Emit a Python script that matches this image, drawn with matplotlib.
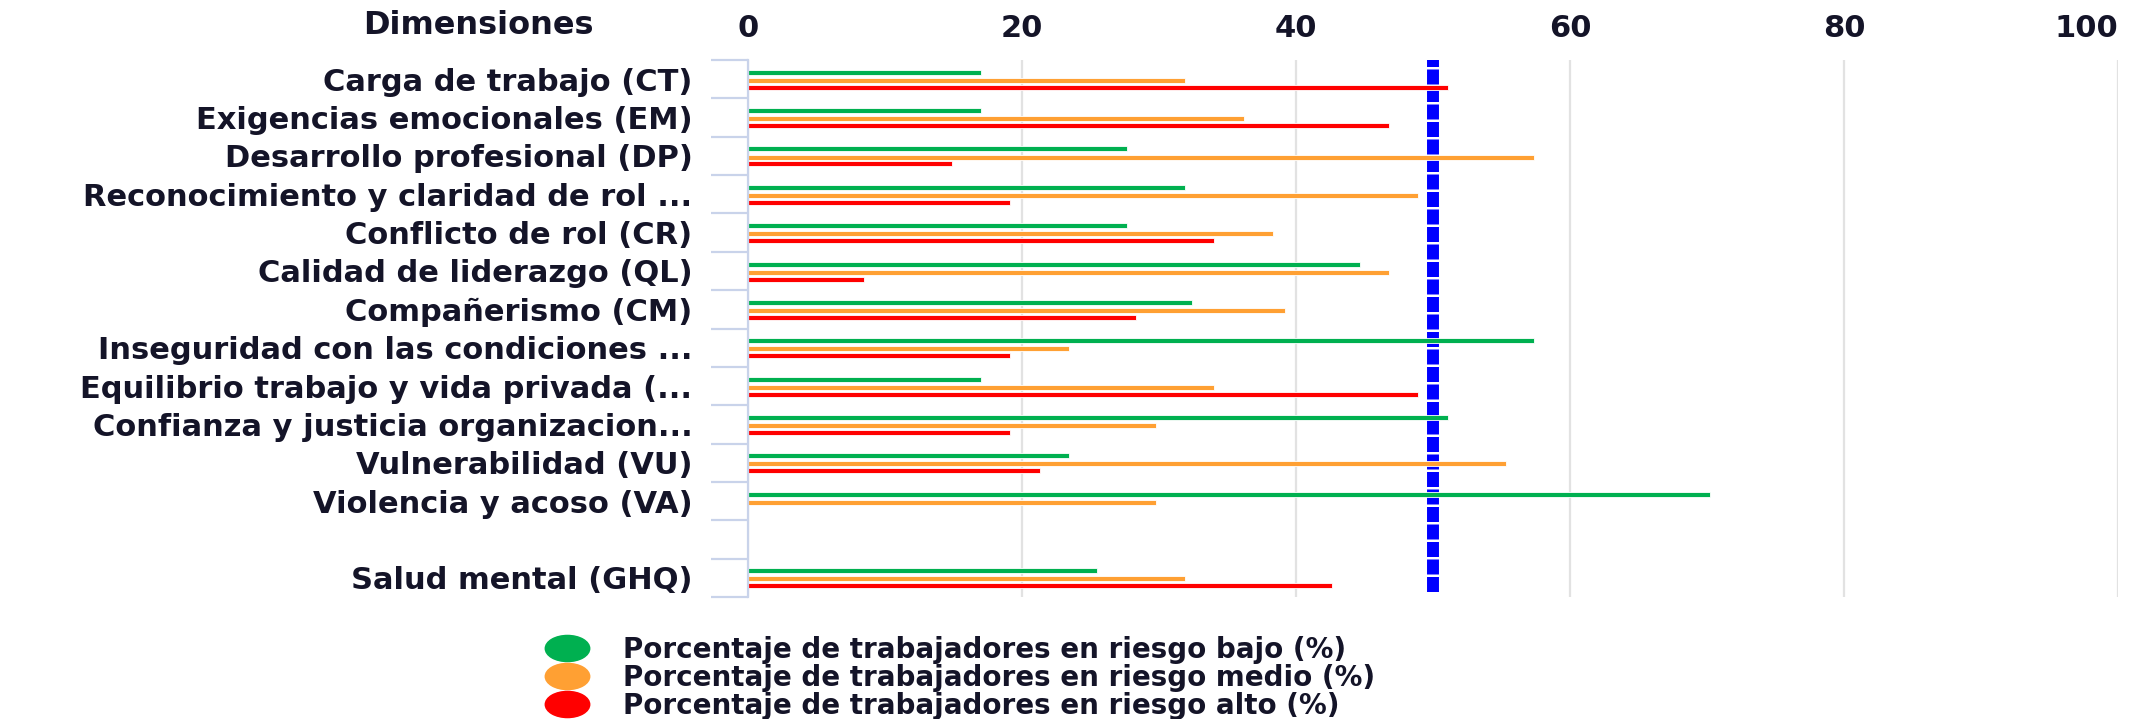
import numpy as np
import matplotlib
matplotlib.use("Agg")
import matplotlib.pyplot as plt
from matplotlib.path import Path
from matplotlib.transforms import Affine2D
from matplotlib.lines import Line2D

plt.rcParams['font.family'] = ['DejaVu Sans']
plt.rcParams['lines.scale_dashes'] = False

# ---- data -------------------------------------------------------------
categories = [
    "Carga de trabajo (CT)",
    "Exigencias emocionales (EM)",
    "Desarrollo profesional (DP)",
    "Reconocimiento y claridad de rol ...",
    "Conflicto de rol (CR)",
    "Calidad de liderazgo (QL)",
    "Compañerismo (CM)",
    "Inseguridad con las condiciones ...",
    "Equilibrio trabajo y vida privada (...",
    "Confianza y justicia organizacion...",
    "Vulnerabilidad (VU)",
    "Violencia y acoso (VA)",
    "",
    "Salud mental (GHQ)",
]
nan = np.nan
riesgo_bajo = [17.0, 17.0, 27.7, 31.9, 27.7, 44.7, 32.4, 57.4, 17.0, 51.1, 23.4, 70.2, nan, 25.5]
riesgo_medio = [31.9, 36.2, 57.4, 48.9, 38.3, 46.8, 39.2, 23.4, 34.0, 29.8, 55.3, 29.8, nan, 31.9]
riesgo_alto = [51.1, 46.8, 14.9, 19.1, 34.0, 8.5, 28.3, 19.1, 48.9, 19.1, 21.3, 0.0, nan, 42.6]
series_labels = [
    "Porcentaje de trabajadores en riesgo bajo (%)",
    "Porcentaje de trabajadores en riesgo medio (%)",
    "Porcentaje de trabajadores en riesgo alto (%)",
]
x_ticks = [0, 20, 40, 60, 80, 100]
reference_value = 50

# ---- styling ----------------------------------------------------------
colors = ["#00b050", "#ffa033", "#ff0000"]
text_color = "#141428"
axis_blue = "#c9d3ea"
W, H = 2143, 719

fig = plt.figure(figsize=(W / 100, H / 100), dpi=100)
ax = fig.add_axes([748 / W, 1 - 597 / H, (2118 - 748) / W, (597 - 60) / H])

y = np.arange(len(categories))
offsets = [-0.18, 0.03, 0.21]
for vals, col, off in zip([riesgo_bajo, riesgo_medio, riesgo_alto], colors, offsets):
    ax.barh(y + off, vals, height=0.13, color=col, edgecolor="white",
            linewidth=0.6, zorder=3)

# reference line
ax.axvline(reference_value, ymin=0.01, ymax=1, color="#0000ff", lw=8.6,
           linestyle=(0, (10.8, 1.8)), zorder=2)

ax.set_xlim(0, 100)
ax.set_ylim(len(categories) - 0.5, -0.5)

# x axis on top
ax.xaxis.tick_top()
ax.set_xticks(x_ticks)
ax.tick_params(axis="x", length=0, pad=12, labelsize=22, labelcolor=text_color)
for t in ax.xaxis.get_major_ticks():
    t.label2.set_fontweight("bold")
ax.xaxis.get_major_ticks()[-1].label2.set_horizontalalignment("right")
ax.grid(axis="x", color="#e2e2e2", linewidth=1.6)
ax.set_axisbelow(True)

# y axis: labels at row centres, short ticks at row boundaries
ax.set_yticks(y)
ax.set_yticklabels(categories, fontsize=22, fontweight="bold", color=text_color)
ax.tick_params(axis="y", which="major", length=0, pad=40)
ax.set_yticks(np.arange(-0.5, len(categories)), minor=True)
ax.tick_params(axis="y", which="minor", length=27, width=1.6, color=axis_blue)

for side in ["top", "right", "bottom"]:
    ax.spines[side].set_visible(False)
ax.spines["left"].set_color(axis_blue)
ax.spines["left"].set_linewidth(1.6)
ax.spines["left"].set_zorder(4)

fig.text(478 / W, 1 - 25 / H, "Dimensiones", ha="center", va="center",
         fontsize=23, fontweight="bold", color=text_color)

# legend with oval markers
oval = Path.unit_circle().transformed(Affine2D().scale(1.7, 1.0))
handles = [Line2D([], [], linestyle="none", marker=oval, markersize=32,
                  markerfacecolor=c, markeredgecolor=c) for c in colors]
fig.legend(handles, series_labels, loc="upper left",
           bbox_to_anchor=(545 / W, 1 - 636 / H), frameon=False,
           prop={"size": 20, "weight": "bold"}, labelcolor=text_color,
           handlelength=1.6, handletextpad=1.2, labelspacing=0.0,
           borderpad=0, borderaxespad=0)

fig.savefig("out.png", dpi=100, facecolor="white")
